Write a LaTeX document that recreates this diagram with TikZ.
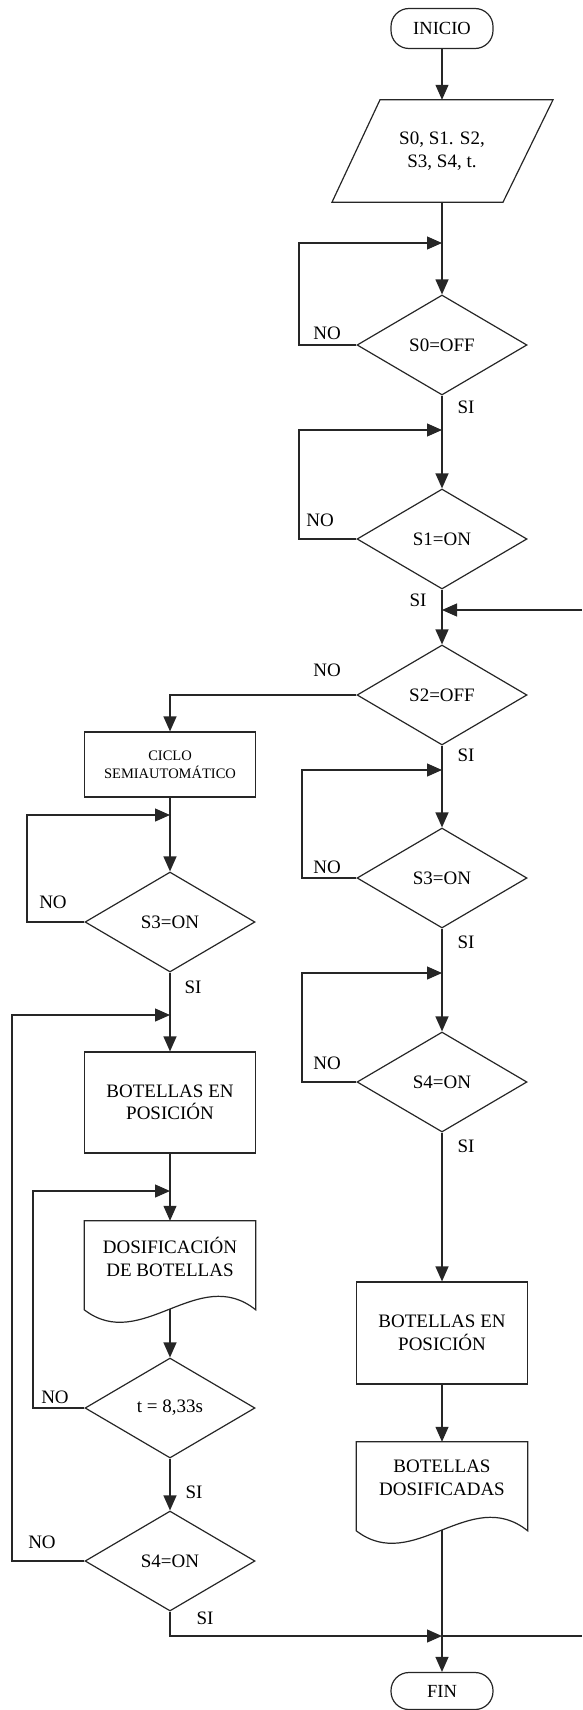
\documentclass[tikz,border=0pt]{standalone}
\usepackage{fontspec}
\setmainfont{Liberation Serif}
\usetikzlibrary{shapes.geometric,arrows.meta,calc}

\begin{document}
\begin{tikzpicture}[x=1pt,y=-1pt,
  line/.style={draw=black!85, line width=1.2pt},
  arr/.style={line, -{Triangle[length=15pt,width=13pt]}},
  txt/.style={font=\fontsize{19}{22.5}\selectfont, align=center, inner sep=0pt},
  lbl/.style={font=\fontsize{19}{22}\selectfont, inner sep=0pt},
  term/.style={rectangle, draw=black!85, line width=1.2pt, rounded corners=18pt,
    minimum width=102pt, minimum height=40pt, inner sep=0pt,
    font=\fontsize{18.5}{22}\selectfont},
  decision/.style={diamond, draw=black!85, line width=1.2pt, minimum width=170pt,
    minimum height=100pt, inner sep=0pt, font=\fontsize{19}{22}\selectfont},
  process/.style={rectangle, draw=black!85, line width=1.2pt, minimum width=171pt,
    inner sep=0pt, align=center, font=\fontsize{19}{22.5}\selectfont},
  docbox/.style={rectangle, inner sep=0pt, minimum width=171pt, minimum height=72pt,
    align=center, font=\fontsize{19}{22.5}\selectfont},
]
\useasboundingbox (0,0) rectangle (582,1710);

% ---- main (right) column ----
\node[term] (ini) at (442,28.5) {INICIO};
\node[txt, minimum height=102pt, minimum width=170pt] (io) at (442,151) {S0, S1. S2,\\S3, S4, t.};
\draw[line] ($(io.north)+(-62,0)$) -- ($(io.north)+(111,0)$)
  -- ($(io.south)+(61,0)$) -- ($(io.south)+(-110,0)$) -- cycle;

\node[decision] (s0) at (442,345) {S0=OFF};
\node[decision] (s1) at (442,539) {S1=ON};
\node[decision] (s2) at (442,695) {S2=OFF};
\node[decision] (s3r) at (442,878) {S3=ON};
\node[decision] (s4r) at (442,1082) {S4=ON};
\node[process, minimum height=102pt] (bpr) at (442,1333) {BOTELLAS EN\\POSICIÓN};
\node[docbox] (dsf) at (442,1478) {BOTELLAS\\DOSIFICADAS};
\draw[line] (dsf.north west) -- ($(dsf.north west)+(0,89)$)
  .. controls ($(dsf.north west)+(57,133)$) and ($(dsf.north west)+(114,43)$)
  .. ($(dsf.north east)+(0,89)$) -- (dsf.north east) -- cycle;
\coordinate (dsfout) at ($(dsf.north)+(0,88)$);
\node[term, minimum height=37pt] (fin) at (442,1691) {FIN};

% ---- left column ----
\node[process, minimum height=65pt, font=\fontsize{14.5}{18}\selectfont] (ciclo) at (170,764.5) {CICLO\\SEMIAUTOMÁTICO};
\node[decision] (s3l) at (170,922) {S3=ON};
\node[process, minimum height=101pt] (bpl) at (170,1102.5) {BOTELLAS EN\\POSICIÓN};
\node[docbox] (dos) at (170,1257) {DOSIFICACIÓN\\DE BOTELLAS};
\draw[line] (dos.north west) -- ($(dos.north west)+(0,89)$)
  .. controls ($(dos.north west)+(57,133)$) and ($(dos.north west)+(114,43)$)
  .. ($(dos.north east)+(0,89)$) -- (dos.north east) -- cycle;
\coordinate (dosout) at ($(dos.north)+(0,88)$);
\node[decision] (tt) at (170,1408) {t = 8,33s};
\node[decision] (s4l) at (170,1561) {S4=ON};

% ---- loop corners and junctions ----
\coordinate (c0) at (299,243);  \coordinate (j0) at (442,243);
\coordinate (c1) at (299,430);  \coordinate (j1) at (442,430);
\coordinate (rt) at (582,610);  \coordinate (j2) at (442,610);
\coordinate (c3) at (302,770);  \coordinate (j3) at (442,770);
\coordinate (c4) at (302,973);  \coordinate (j4) at (442,973);
\coordinate (c5) at (27,815);   \coordinate (j5) at (170,815);
\coordinate (c6) at (12,1015);  \coordinate (j6) at (170,1015);
\coordinate (c7) at (33,1191);  \coordinate (j7) at (170,1191);
\coordinate (jf) at (442,1636); \coordinate (rb) at (582,1636);

% ---- connectors, right column ----
\draw[arr] (ini.south) -- (io.north);
\draw[arr] (io.south) -- (s0.north);
\draw[arr] (s0.west) -| (c0) -- (j0);
\draw[arr] (s0.south) -- (s1.north);
\draw[arr] (s1.west) -| (c1) -- (j1);
\draw[arr] (s1.south) -- (s2.north);
\draw[arr] (rt) -- (j2);
\draw[arr] (s2.south) -- (s3r.north);
\draw[arr] (s3r.west) -| (c3) -- (j3);
\draw[arr] (s3r.south) -- (s4r.north);
\draw[arr] (s4r.west) -| (c4) -- (j4);
\draw[arr] (s4r.south) -- (bpr.north);
\draw[arr] (bpr.south) -- (dsf.north);
\draw[arr] (dsfout) -- (fin.north);

% ---- connectors, left column ----
\draw[arr] (s2.west) -| (ciclo.north);
\draw[arr] (ciclo.south) -- (s3l.north);
\draw[arr] (s3l.west) -| (c5) -- (j5);
\draw[arr] (s3l.south) -- (bpl.north);
\draw[arr] (s4l.west) -| (c6) -- (j6);
\draw[arr] (bpl.south) -- (dos.north);
\draw[arr] (tt.west) -| (c7) -- (j7);
\draw[arr] (dosout) -- (tt.north);
\draw[arr] (tt.south) -- (s4l.north);
\draw[arr] (s4l.south) |- (jf);
\draw[line] (jf) -- (rb);

% ---- branch labels ----
\node[lbl] (no0) at (327,333) {NO};  \node[lbl] (si0) at (466,407) {SI};
\node[lbl] (no1) at (320,520) {NO};  \node[lbl] (si1) at (418,600) {SI};
\node[lbl] (no2) at (327,670) {NO};  \node[lbl] (si2) at (466,755) {SI};
\node[lbl] (no3) at (327,867) {NO};  \node[lbl] (si3) at (466,942) {SI};
\node[lbl] (no4) at (327,1063) {NO}; \node[lbl] (si4) at (466,1146) {SI};
\node[lbl] (no5) at (53,902) {NO};   \node[lbl] (si5) at (193,987) {SI};
\node[lbl] (no6) at (55,1397) {NO};  \node[lbl] (si6) at (194,1492) {SI};
\node[lbl] (no7) at (42,1542) {NO};  \node[lbl] (si7) at (205,1618) {SI};
\end{tikzpicture}
\end{document}
